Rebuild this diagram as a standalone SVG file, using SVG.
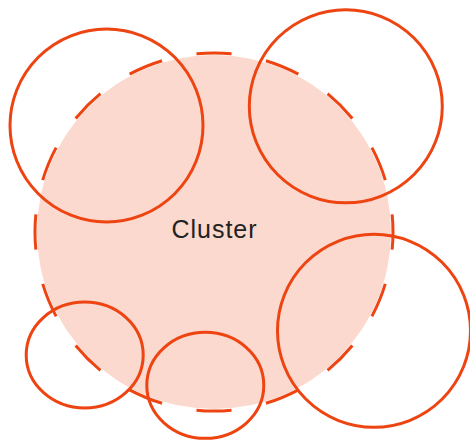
<svg xmlns="http://www.w3.org/2000/svg" width="470" height="440" viewBox="0 0 470 440">
  <style>
    .ring { fill: none; stroke: #EE4412; stroke-width: 3; }
    .cluster-fill { fill: #FCD9CE; stroke: none; }
    .cluster-edge { fill: none; stroke: #EE4412; stroke-width: 3; stroke-dasharray: 50 50; stroke-dashoffset: 25; }
    .label { font-family: "Century Gothic", "URW Gothic", "Liberation Sans", "DejaVu Sans", sans-serif; font-size: 25px; fill: #222222; }
  </style>
  <rect width="470" height="440" fill="#FFFFFF"/>

  <!-- Cluster area -->
  <g id="cluster">
    <circle class="cluster-fill" cx="214" cy="232" r="177"/>
    <circle class="cluster-edge" cx="214" cy="232" r="179" pathLength="1600"/>
    <text class="label" x="214" y="238" text-anchor="middle" textLength="85" lengthAdjust="spacing">Cluster</text>
  </g>

  <!-- Member circles -->
  <g id="member-top-left">
    <circle class="ring" cx="106.5" cy="125.5" r="96.5"/>
  </g>
  <g id="member-top-right">
    <circle class="ring" cx="345.8" cy="106.3" r="96.5"/>
  </g>
  <g id="member-bottom-right">
    <circle class="ring" cx="374" cy="330.8" r="96.5"/>
  </g>
  <g id="member-bottom-left">
    <ellipse class="ring" cx="84.7" cy="355" rx="58.5" ry="53"/>
  </g>
  <g id="member-bottom-center">
    <ellipse class="ring" cx="205.3" cy="385.3" rx="58.5" ry="53"/>
  </g>
</svg>
